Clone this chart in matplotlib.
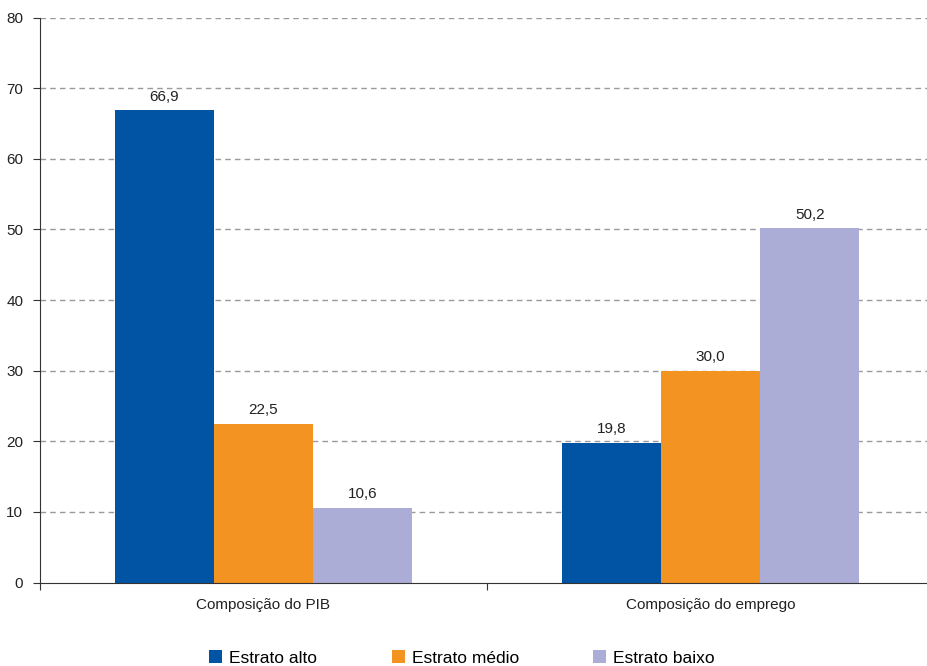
import matplotlib
matplotlib.use("Agg")
import matplotlib.pyplot as plt
import numpy as np

plt.rcParams['font.family'] = ['Liberation Sans', 'DejaVu Sans']

categories = ["Composição do PIB", "Composição do emprego"]
series_names = ["Estrato alto", "Estrato médio", "Estrato baixo"]
estrato_alto = [66.9, 19.8]
estrato_medio = [22.5, 30.0]
estrato_baixo = [10.6, 50.2]
colors = ["#0153A3", "#F39322", "#ABADD7"]
y_ticks = [0, 10, 20, 30, 40, 50, 60, 70, 80]

W, H = 927, 666
fig = plt.figure(figsize=(W / 100, H / 100), dpi=100)
ax = fig.add_axes([40 / W, (H - 582.5) / H, (934 - 40) / W, (582.5 - 17.5) / H])

x = np.arange(len(categories))
width = 0.222
values = [estrato_alto, estrato_medio, estrato_baixo]
handles = []
for i, (name, vals, c) in enumerate(zip(series_names, values, colors)):
    bars = ax.bar(x + (i - 1) * width, vals, width, color=c, label=name, zorder=3)
    handles.append(bars)
    for b, v in zip(bars, vals):
        ax.text(b.get_x() + b.get_width() / 2, v + 0.9,
                f"{v:.1f}".replace(".", ","), ha="center", va="bottom",
                fontsize=11, color="#222222", zorder=4)

ax.set_xlim(-0.5, 1.5)
ax.set_ylim(0, 80)
ax.set_yticks(y_ticks)
ax.set_yticklabels([str(t) for t in y_ticks], fontsize=11, color="#222222")

# category boundaries carry the tick marks; labels sit at group centres
ax.set_xticks([-0.5, 0.5, 1.5])
ax.set_xticklabels([])
ax.set_xticks(x, minor=True)
ax.set_xticklabels(categories, minor=True, fontsize=11, color="#222222")
ax.tick_params(axis="x", which="minor", length=0, pad=11)
ax.tick_params(axis="x", which="major", length=5, direction="out", color="#333333")
ax.tick_params(axis="y", length=5, direction="out", color="#333333", pad=7)

for y in y_ticks[1:]:
    ax.axhline(y, color="#9a9a9a", linestyle=(0, (4, 3)), linewidth=1.0, zorder=1)

for s in ["top", "right"]:
    ax.spines[s].set_visible(False)
ax.spines["left"].set_color("#333333")
ax.spines["bottom"].set_color("#333333")
ax.spines["left"].set_zorder(5)
ax.spines["bottom"].set_zorder(5)

fig.legend(handles=handles, labels=series_names, loc="center",
           bbox_to_anchor=(462 / W, 1 - 658 / H), ncol=3, frameon=False,
           fontsize=12.5, handlelength=0.75, handleheight=0.75,
           handletextpad=0.4, columnspacing=4.3)

fig.savefig("out.png", dpi=100)
